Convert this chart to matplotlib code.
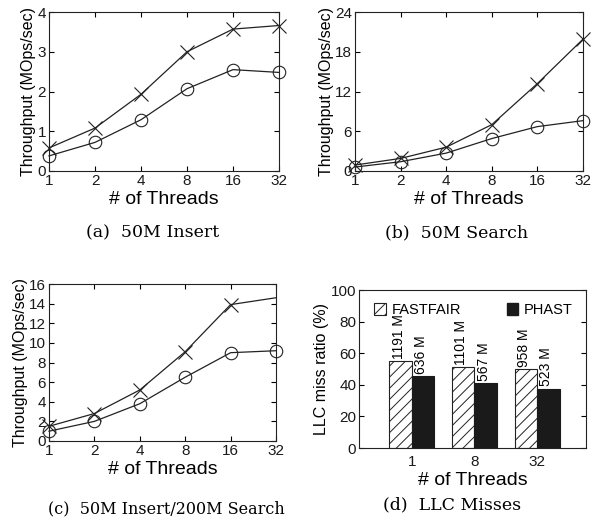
import numpy as np
import matplotlib
matplotlib.use("Agg")
import matplotlib.pyplot as plt
from matplotlib.patches import Patch

plt.rcParams['font.family'] = ['Liberation Sans', 'DejaVu Sans']
plt.rcParams['hatch.linewidth'] = 0.7

THREADS = [1, 2, 4, 8, 16, 32]

# (a) 50M Insert
INSERT_X = [0.58, 1.08, 1.93, 3.0, 3.57, 3.66]
INSERT_O = [0.38, 0.72, 1.29, 2.07, 2.55, 2.48]
# (b) 50M Search
SEARCH_X = [0.9, 1.9, 3.6, 7.0, 13.2, 19.9]
SEARCH_O = [0.6, 1.4, 2.7, 4.9, 6.7, 7.6]
# (c) 50M Insert/200M Search
MIXED_X = [1.5, 2.8, 5.2, 9.1, 13.9, 14.6]
MIXED_O = [1.0, 2.0, 3.8, 6.5, 9.0, 9.2]

# (d) LLC misses
LLC_THREADS = ['1', '8', '32']
LLC_FASTFAIR = [55, 51, 50]
LLC_PHAST = [45.5, 41, 37.5]
LLC_FASTFAIR_LABELS = ['1191 M', '1101 M', '958 M']
LLC_PHAST_LABELS = ['636 M', '567 M', '523 M']

W, H = 606, 522
fig = plt.figure(figsize=(W / 100, H / 100), dpi=100)


def box(l, t, r, b):
    return [l / W, 1 - b / H, (r - l) / W, (b - t) / H]


def style_axes(ax):
    for s in ax.spines.values():
        s.set_linewidth(0.8)
        s.set_color('#222222')
    ax.tick_params(direction='in', top=True, right=True, labelsize=11,
                   length=3.5, width=0.8, pad=2, labelcolor='#1a1a1a')


def line_panel(rect, xs, os_, yticks, caption, cap_xy, cap_size=12.5,
               x_markevery=None):
    ax = fig.add_axes(rect)
    ax.plot(THREADS, xs, '-', color='#222222', lw=0.9, marker='x', ms=10,
            mew=0.8, clip_on=False, markevery=x_markevery)
    ax.plot(THREADS, os_, '-', color='#222222', lw=0.9, marker='o', ms=9,
            mfc='none', mew=0.8, clip_on=False)
    ax.set_xscale('log', base=2)
    ax.set_xlim(1, 32)
    ax.set_xticks(THREADS)
    ax.set_xticklabels([str(t) for t in THREADS])
    ax.minorticks_off()
    ax.set_ylim(yticks[0], yticks[-1])
    ax.set_yticks(yticks)
    ax.set_xlabel('# of Threads', fontsize=14, labelpad=2)
    ax.set_ylabel('Throughput (MOps/sec)', fontsize=11.5, labelpad=1)
    style_axes(ax)
    fig.text(cap_xy[0] / W, 1 - cap_xy[1] / H, caption, ha='center',
             va='center', fontsize=cap_size, family='DejaVu Serif')
    return ax


line_panel(box(49, 12, 279, 171), INSERT_X, INSERT_O, [0, 1, 2, 3, 4],
           '(a)  50M Insert', (153, 233))
line_panel(box(355, 12, 583, 171), SEARCH_X, SEARCH_O, [0, 6, 12, 18, 24],
           '(b)  50M Search', (457, 233))
line_panel(box(49, 284, 276, 441), MIXED_X, MIXED_O, list(range(0, 17, 2)),
           '(c)  50M Insert/200M Search', (166, 509), cap_size=11.5,
           x_markevery=[0, 1, 2, 3, 4])

# (d) bar chart
ax = fig.add_axes(box(359, 290, 586, 448))
x = np.arange(len(LLC_THREADS))
bw = 0.36
ax.bar(x - bw / 2, LLC_FASTFAIR, bw, color='white', edgecolor='#222222',
       hatch='///', lw=0.8)
ax.bar(x + bw / 2, LLC_PHAST, bw, color='#1a1a1a', edgecolor='#1a1a1a', lw=0.8)
for xi, v, lab in zip(x - bw / 2, LLC_FASTFAIR, LLC_FASTFAIR_LABELS):
    ax.text(xi - 0.03, v + 1.5, lab, rotation=90, ha='center', va='bottom',
            fontsize=10)
for xi, v, lab in zip(x + bw / 2, LLC_PHAST, LLC_PHAST_LABELS):
    ax.text(xi - 0.03, v + 1.5, lab, rotation=90, ha='center', va='bottom',
            fontsize=10)
ax.set_xlim(-0.84, 2.78)
ax.set_ylim(0, 100)
ax.set_yticks([0, 20, 40, 60, 80, 100])
ax.set_xticks(x)
ax.set_xticklabels(LLC_THREADS)
ax.set_xlabel('# of Threads', fontsize=14, labelpad=2)
ax.set_ylabel('LLC miss ratio (%)', fontsize=11.5, labelpad=1)
style_axes(ax)
ax.tick_params(axis='x', top=False, bottom=False, pad=5)
ax.legend([Patch(facecolor='white', edgecolor='#222222', hatch='///', lw=0.8)],
          ['FASTFAIR'], loc='upper left', frameon=False, fontsize=10.5,
          handlelength=0.8, handleheight=0.8, handletextpad=0.4,
          bbox_to_anchor=(0.01, 1.0))
leg1 = ax.get_legend()
ax.add_artist(leg1)
ax.legend([Patch(facecolor='#1a1a1a', edgecolor='#1a1a1a')], ['PHAST'],
          loc='upper right', frameon=False, fontsize=10.5, handlelength=0.8,
          handleheight=0.8, handletextpad=0.4, bbox_to_anchor=(1.0, 1.0))
fig.text(452 / W, 1 - 505 / H, '(d)  LLC Misses', ha='center', va='center',
         fontsize=12.5, family='DejaVu Serif')

fig.savefig('out.png', dpi=100)
